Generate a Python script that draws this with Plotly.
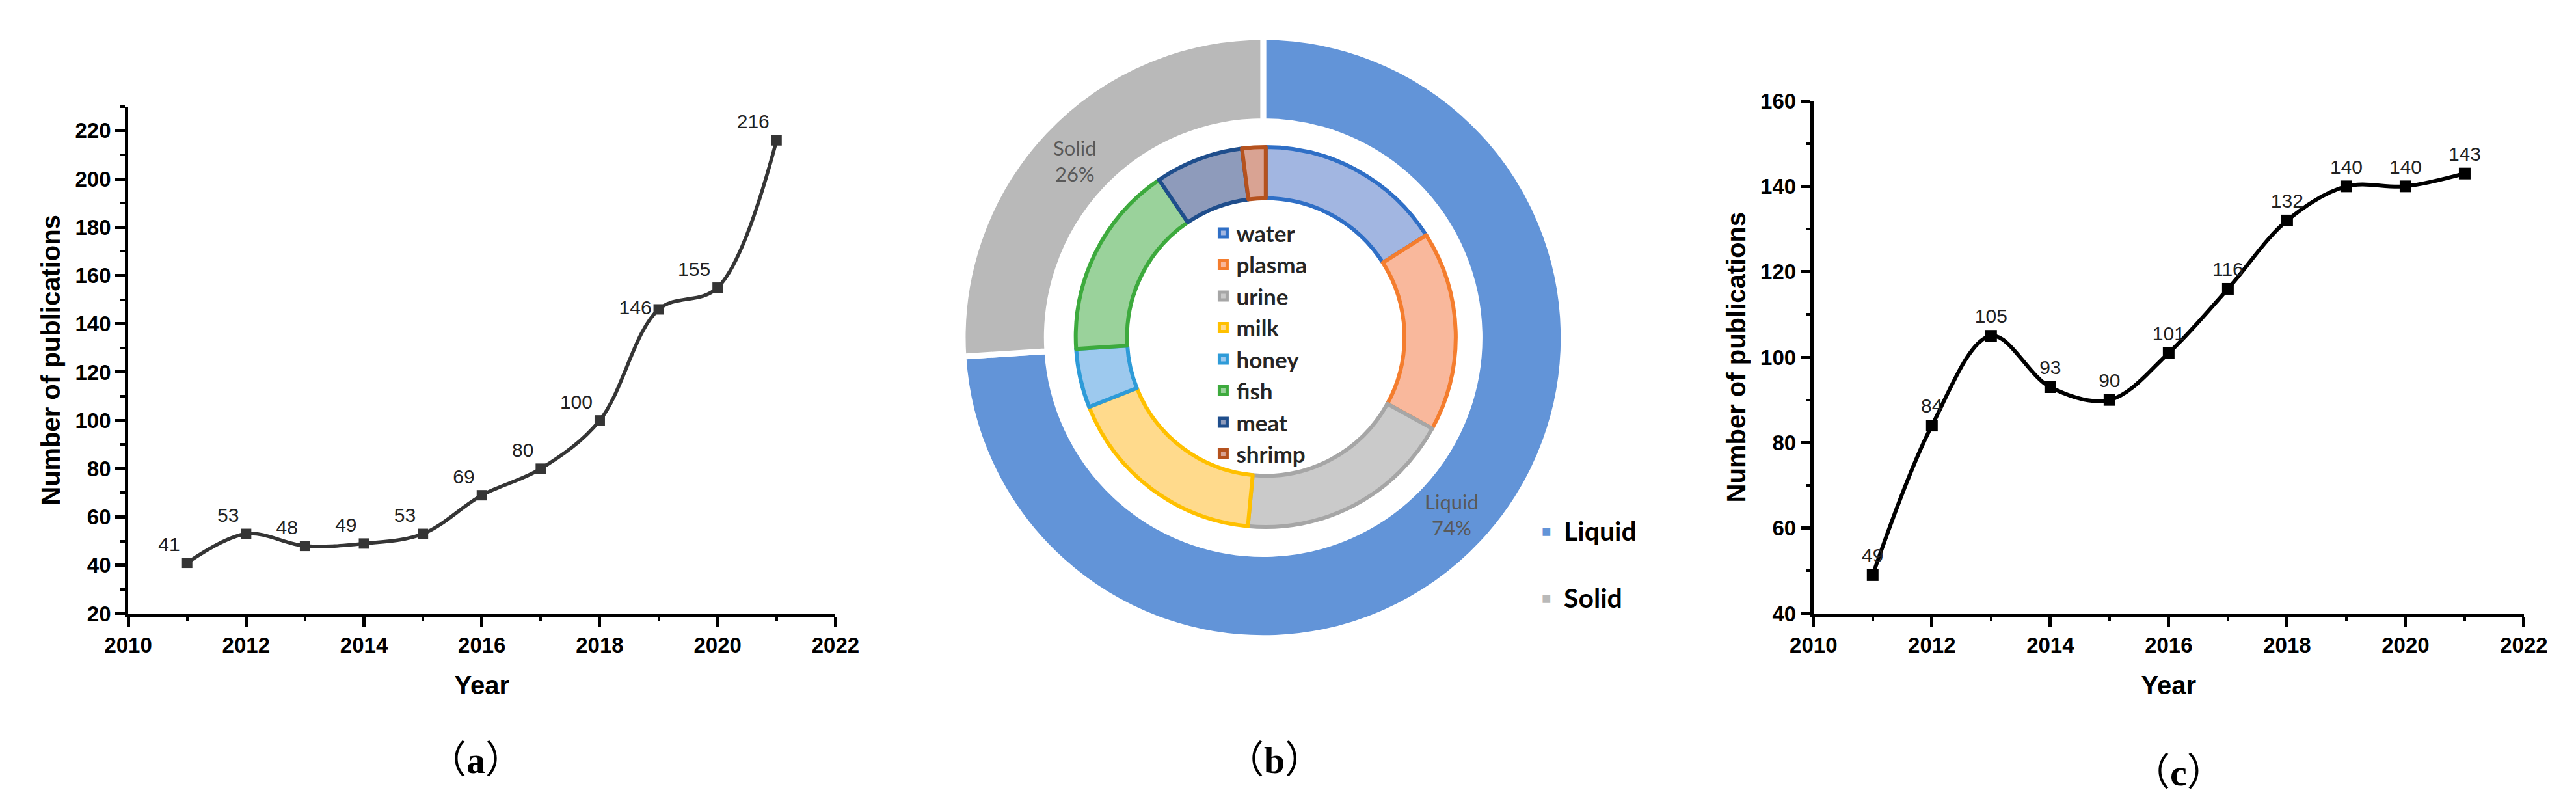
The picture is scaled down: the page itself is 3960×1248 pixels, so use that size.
import plotly.graph_objects as go

# ---------------------------------------------------------------
# data
# ---------------------------------------------------------------
years = [2011, 2012, 2013, 2014, 2015, 2016, 2017, 2018, 2019, 2020, 2021]
pubs_a = [41, 53, 48, 49, 53, 69, 80, 100, 146, 155, 216]
pubs_c = [49, 84, 105, 93, 90, 101, 116, 132, 140, 140, 143]
label_pos_a = ["top left"] * 8 + ["middle left", "top left", "top left"]

state_labels = ["Liquid", "Solid"]
state_share = [74, 26]
state_colors = ["#6294D8", "#B9B9B9"]

matrix_labels = ["water", "plasma", "urine", "milk", "honey", "fish", "meat", "shrimp"]
matrix_share = [16, 17, 18.5, 17.5, 5, 16.5, 7.5, 2]
matrix_fill = ["#A2B6E1", "#F9B89C", "#CACACA", "#FFDA8C", "#9DC9EE", "#9AD29B", "#8E9BBB", "#D9A393"]
matrix_edge = ["#2F6FC6", "#F47D2E", "#A6A6A6", "#FFC000", "#2E9BD8", "#3DAA3D", "#1F4E8C", "#B5521E"]

W, H = 3960, 1248


def px(x):
    return x / W


def py(y):
    return 1 - y / H


SANS = "Liberation Sans, Arial, sans-serif"
CAL = "Lato, Open Sans, sans-serif"

fig = go.Figure()

# (a) publications per year
fig.add_trace(
    go.Scatter(
        x=years, y=pubs_a,
        mode="lines+markers+text",
        text=[str(v) for v in pubs_a],
        textposition=label_pos_a,
        textfont=dict(family=SANS, size=30, color="#222222"),
        line=dict(shape="spline", smoothing=1.0, color="#353535", width=5.5),
        marker=dict(symbol="square", size=16, color="#353535"),
        cliponaxis=False,
        showlegend=False,
        hoverinfo="skip",
        xaxis="x", yaxis="y",
    )
)

# (c) publications per year
fig.add_trace(
    go.Scatter(
        x=years, y=pubs_c,
        mode="lines+markers+text",
        text=[str(v) for v in pubs_c],
        textposition="top center",
        textfont=dict(family=SANS, size=30, color="#222222"),
        line=dict(shape="spline", smoothing=1.0, color="#000000", width=6),
        marker=dict(symbol="square", size=18, color="#000000"),
        cliponaxis=False,
        showlegend=False,
        hoverinfo="skip",
        xaxis="x2", yaxis="y2",
    )
)

# (b) outer ring: sample state
fig.add_trace(
    go.Pie(
        labels=state_labels, values=state_share,
        domain=dict(x=[px(1455), px(2411)], y=[py(984), py(32)]),
        hole=0.72, sort=False, direction="clockwise", rotation=0,
        marker=dict(colors=state_colors, line=dict(color="white", width=9)),
        texttemplate="%{label}<br>%{percent:.0%}",
        textposition="inside", insidetextorientation="horizontal",
        insidetextfont=dict(family=CAL, size=31, color="#595959"),
        showlegend=False, hoverinfo="skip",
    )
)

# (b) inner ring: sample matrix
fig.add_trace(
    go.Pie(
        labels=matrix_labels, values=matrix_share,
        domain=dict(x=[px(1634), px(2240)], y=[py(808), py(206)]),
        hole=0.73, sort=False, direction="clockwise", rotation=0,
        marker=dict(colors=matrix_fill, line=dict(color=matrix_edge, width=6)),
        textinfo="none",
        showlegend=True, hoverinfo="skip",
    )
)

axis_common = dict(
    showline=True, linecolor="black", linewidth=5, mirror=False,
    ticks="outside", ticklen=15, tickwidth=5, tickcolor="black",
    showgrid=False, zeroline=False,
    tickfont=dict(family=SANS, size=33, color="black", weight="bold"),
)
title_font = dict(family=SANS, size=40, color="black", weight="bold")

fig.update_layout(
    width=W, height=H,
    margin=dict(l=0, r=0, t=0, b=0),
    paper_bgcolor="white", plot_bgcolor="white",
    showlegend=True,
    xaxis=dict(
        domain=[px(155), px(1263)], anchor="y", range=[2010, 2022], dtick=2,
        minor=dict(ticks="outside", ticklen=7, tickwidth=4, dtick=1, tickcolor="black"),
        title=dict(text="Year", font=title_font, standoff=32),
        **axis_common,
    ),
    yaxis=dict(
        domain=[py(945), py(142)], anchor="x", range=[20, 230], dtick=20, tick0=20,
        minor=dict(ticks="outside", ticklen=7, tickwidth=4, dtick=10, tickcolor="black"),
        title=dict(text="Number of publications", font=title_font, standoff=12),
        **axis_common,
    ),
    xaxis2=dict(
        domain=[px(2795), px(3908)], anchor="y2", range=[2010, 2022], dtick=2,
        minor=dict(ticks="outside", ticklen=7, tickwidth=4, dtick=1, tickcolor="black"),
        title=dict(text="Year", font=title_font, standoff=32),
        **axis_common,
    ),
    yaxis2=dict(
        domain=[py(945), py(133)], anchor="x2", range=[40, 160], dtick=20,
        minor=dict(ticks="outside", ticklen=7, tickwidth=4, dtick=10, tickcolor="black"),
        title=dict(text="Number of publications", font=title_font, standoff=12),
        **axis_common,
    ),
    legend=dict(
        x=px(1850), y=py(312), xanchor="left", yanchor="top",
        font=dict(family=CAL, size=35, color="#262626", weight="bold"),
        bgcolor="rgba(0,0,0,0)", itemclick=False, itemdoubleclick=False,
    ),
)

# outer ring key, to the right of the donut
for i, (lab, col) in enumerate(zip(state_labels, state_colors)):
    yy = py(814 + 106 * i)
    fig.add_annotation(
        x=px(2377), y=yy, xref="paper", yref="paper", showarrow=False,
        text="■", font=dict(size=24, color=col), xanchor="center", yanchor="middle",
    )
    fig.add_annotation(
        x=px(2402), y=yy, xref="paper", yref="paper", showarrow=False,
        text=lab, font=dict(family=CAL, size=41, color="black", weight="bold"),
        xanchor="left", yanchor="middle",
    )

# panel captions
PAREN = "Liberation Serif, Noto Sans CJK SC, serif"
for cap, cx, cy in [("（<b>a</b>）", 700, 1177), ("（<b>b</b>）", 1950, 1177), ("（<b>c</b>）", 3367, 1197)]:
    fig.add_annotation(
        x=px(cx), y=py(cy), xref="paper", yref="paper", showarrow=False,
        text=cap, font=dict(family=PAREN, size=58, color="black"),
        xanchor="center", yanchor="middle",
    )

fig.write_html("out.html")
